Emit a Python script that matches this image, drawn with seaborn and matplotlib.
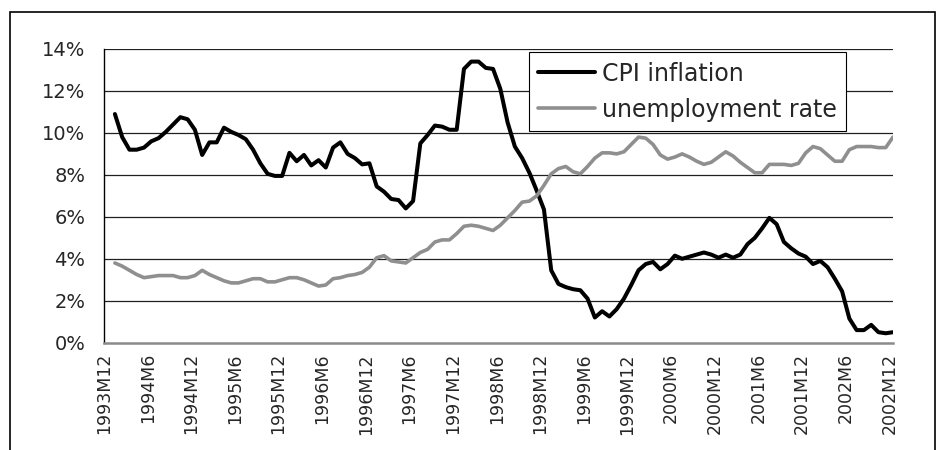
import numpy as np
import pandas as pd
import matplotlib
matplotlib.use("Agg")
import matplotlib.pyplot as plt
import seaborn as sns
from matplotlib.patches import Rectangle
from matplotlib.ticker import FuncFormatter

# monthly values in percent, 1994M1 .. 2002M12
cpi = [10.9, 9.8, 9.2, 9.2, 9.3, 9.6, 9.75, 10.05, 10.4, 10.75, 10.65, 10.15,
       8.95, 9.55, 9.55, 10.25, 10.05, 9.9, 9.7, 9.2, 8.55, 8.05, 7.95, 7.95,
       9.05, 8.65, 8.95, 8.45, 8.7, 8.35, 9.3, 9.55, 9.0, 8.8, 8.5, 8.55,
       7.45, 7.2, 6.85, 6.8, 6.4, 6.75, 9.5, 9.9, 10.35, 10.3, 10.15, 10.15,
       13.05, 13.4, 13.4, 13.1, 13.05, 12.1, 10.5, 9.35, 8.8, 8.1, 7.25, 6.35,
       3.45, 2.8, 2.65, 2.55, 2.5, 2.1, 1.2, 1.5, 1.25, 1.6, 2.1, 2.75,
       3.45, 3.75, 3.85, 3.5, 3.75, 4.15, 4.0, 4.1, 4.2, 4.3, 4.2, 4.05,
       4.2, 4.05, 4.2, 4.7, 5.0, 5.45, 5.95, 5.65, 4.8, 4.5, 4.25, 4.1,
       3.75, 3.9, 3.6, 3.05, 2.45, 1.15, 0.6, 0.6, 0.85, 0.5, 0.45, 0.5]
unemployment = [3.8, 3.65, 3.45, 3.25, 3.1, 3.15, 3.2, 3.2, 3.2, 3.1, 3.1, 3.2,
                3.45, 3.25, 3.1, 2.95, 2.85, 2.85, 2.95, 3.05, 3.05, 2.9, 2.9, 3.0,
                3.1, 3.1, 3.0, 2.85, 2.7, 2.75, 3.05, 3.1, 3.2, 3.25, 3.35, 3.6,
                4.05, 4.15, 3.9, 3.85, 3.8, 4.05, 4.3, 4.45, 4.8, 4.9, 4.9, 5.2,
                5.55, 5.6, 5.55, 5.45, 5.35, 5.6, 5.95, 6.3, 6.7, 6.75, 7.0, 7.5,
                8.05, 8.3, 8.4, 8.15, 8.05, 8.4, 8.8, 9.05, 9.05, 9.0, 9.1, 9.45,
                9.8, 9.75, 9.45, 8.95, 8.75, 8.85, 9.0, 8.85, 8.65, 8.5, 8.6, 8.85,
                9.1, 8.9, 8.6, 8.35, 8.1, 8.1, 8.5, 8.5, 8.5, 8.45, 8.55, 9.05,
                9.35, 9.25, 8.95, 8.65, 8.65, 9.2, 9.35, 9.35, 9.35, 9.3, 9.3, 9.8]
tick_labels = ["1993M12", "1994M6", "1994M12", "1995M6", "1995M12", "1996M6",
               "1996M12", "1997M6", "1997M12", "1998M6", "1998M12", "1999M6",
               "1999M12", "2000M6", "2000M12", "2001M6", "2001M12", "2002M6",
               "2002M12"]

sns.set_style("white")
plt.rcParams['font.family'] = ['DejaVu Sans']

df = pd.DataFrame({
    'month': np.arange(1, len(cpi) + 1) + 0.5,
    'CPI inflation': cpi,
    'unemployment rate': unemployment,
})

fig = plt.figure(figsize=(9.43, 4.5), dpi=100)
ax = fig.add_axes([104 / 943, 1 - 342.7 / 450, 789 / 943, 293.7 / 450])

sns.lineplot(data=df, x='month', y='CPI inflation', color='black',
             linewidth=2.9, label='CPI inflation', ax=ax)
sns.lineplot(data=df, x='month', y='unemployment rate', color='#8f8f8f',
             linewidth=2.6, label='unemployment rate', ax=ax)

ax.set_xlim(0, 108.5)
ax.set_ylim(0, 14)
ax.set_yticks(np.arange(0, 15, 2))
ax.yaxis.set_major_formatter(FuncFormatter(lambda v, p: f"{v:.0f}%"))
ax.set_xticks(np.arange(0, 6 * len(tick_labels), 6))
ax.set_xticklabels(tick_labels, rotation=90)
ax.set_xlabel('')
ax.set_ylabel('')

for yv in np.arange(2, 15, 2):
    ax.axhline(yv, color='#202020', linewidth=0.9, zorder=0)

for side in ['top', 'right']:
    ax.spines[side].set_visible(False)
ax.spines['left'].set_color('black')
ax.spines['left'].set_linewidth(1.0)
ax.spines['bottom'].set_color('#8a8a8a')
ax.spines['bottom'].set_linewidth(1.8)

ax.tick_params(axis='y', direction='out', length=4.5, width=1, color='black',
               labelsize=14, pad=9)
ax.tick_params(axis='x', direction='out', length=3.5, width=1, color='#404040',
               labelsize=12.5, pad=4)

leg = ax.legend(loc='upper left', bbox_to_anchor=(529 / 943, 1 - 52.3 / 450),
                bbox_transform=fig.transFigure, frameon=True, fancybox=False,
                edgecolor='black', framealpha=1, fontsize=17, handlelength=2.4,
                handletextpad=0.28, borderpad=0.4, labelspacing=0.5,
                borderaxespad=0)
leg.get_frame().set_linewidth(0.8)

# outer chart frame
fig.patches.append(Rectangle((10 / 943, -0.1), 925 / 943, 1.1 - 12 / 450,
                             transform=fig.transFigure, fill=False,
                             edgecolor='black', linewidth=1.2))

fig.savefig('out.png', dpi=100)
